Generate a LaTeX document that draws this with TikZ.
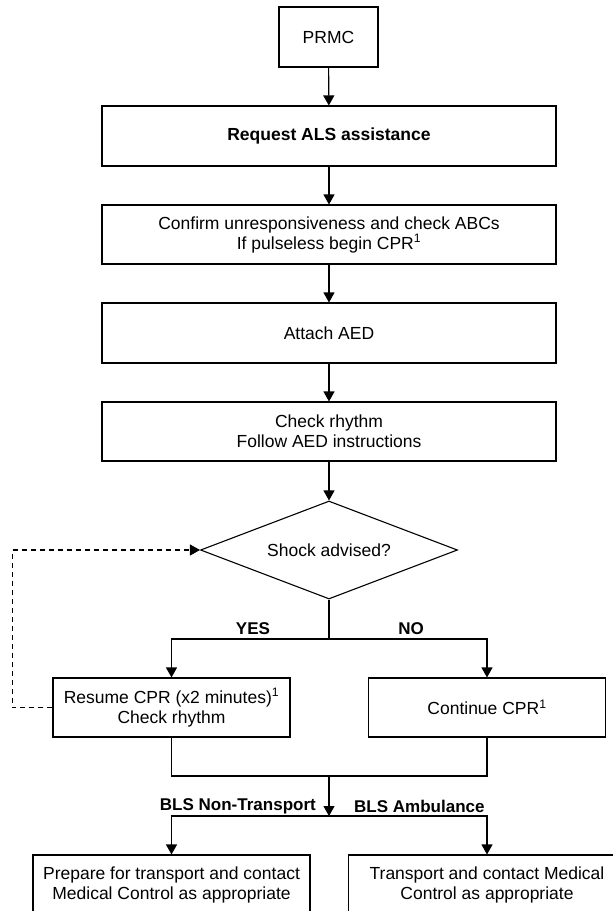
\documentclass[tikz,border=0pt]{standalone}
\usepackage{fontspec}
\setmainfont{Liberation Sans}
\usepackage{tikz}
\usetikzlibrary{shapes.geometric, arrows.meta}
\usetikzlibrary{positioning}
\tikzstyle{arrow} = [line width=1.1pt,-{Triangle[length=10pt,width=11pt]}]
\tikzstyle{box} = [draw,line width=1.1pt,rectangle,inner sep=0pt,align=center,minimum width=454pt,minimum height=59pt]
\tikzstyle{halfbox} = [box,minimum width=237pt]
\tikzstyle{endbox} = [box,minimum width=277pt,minimum height=60pt]
\tikzstyle{decision} = [draw,line width=1.1pt,diamond,aspect=2.6,inner sep=0pt,minimum width=257pt,minimum height=98pt]
\tikzstyle{lbl} = [font=\fontsize{17}{20}\selectfont\bfseries,inner sep=0pt]

\begin{document}
\begin{tikzpicture}[x=1pt,y=-1pt,font=\fontsize{17.5}{20}\selectfont]
\useasboundingbox (0,0) rectangle (613,911);
\node[box,minimum width=99pt,minimum height=60pt] (prmc) at (328.5,37) {PRMC};
\node[box,minimum height=60pt] (als) at (329,136) {\textbf{Request ALS assistance}};
\node[box] (abc) at (329,234.5) {Confirm unresponsiveness and check ABCs\\If pulseless begin CPR\textsuperscript{1}};
\node[box,minimum height=60pt] (aed) at (329,333) {Attach AED};
\node[box] (rhythm) at (329,431.5) {Check rhythm\\Follow AED instructions};
\node[decision] (shock) at (329,550) {Shock advised?};
\node[halfbox] (resume) at (171.5,707.5) {Resume CPR (x2 minutes)\textsuperscript{1}\\Check rhythm};
\node[halfbox] (cont) at (487,707.5) {Continue CPR\textsuperscript{1}};
\node[endbox] (prep) at (171.5,885) {Prepare for transport and contact\\Medical Control as appropriate};
\node[endbox] (trans) at (487,885) {Transport and contact Medical\\Control as appropriate};
\coordinate (yesno) at (329,639);
\coordinate (join) at (329,776);
\coordinate (fork) at (329,816);
\node[lbl] (yes) at (253,629) {YES};
\node[lbl] (no) at (411,629) {NO};
\node[lbl,anchor=east] (nontr) at (316,806) {BLS Non-Transport};
\node[lbl,anchor=west] (amb) at (354,806) {BLS Ambulance};
\draw[arrow](prmc)--(als);
\draw[arrow](als)--(abc);
\draw[arrow](abc)--(aed);
\draw[arrow](aed)--(rhythm);
\draw[arrow](rhythm)--(shock);
\draw[line width=1.1pt](shock.south)--(yesno);
\draw[arrow](yesno)-|(resume.north);
\draw[arrow](yesno)-|(cont.north);
\draw[arrow,dash pattern=on 5pt off 4pt](resume.west)--++(-40,0)|-(shock.west);
\draw[line width=1.1pt](resume.south)|-(join);
\draw[line width=1.1pt](cont.south)|-(join);
\draw[arrow](join)--(fork);
\draw[arrow](fork)-|(prep.north);
\draw[arrow](fork)-|(trans.north);
\end{tikzpicture}
\end{document}
